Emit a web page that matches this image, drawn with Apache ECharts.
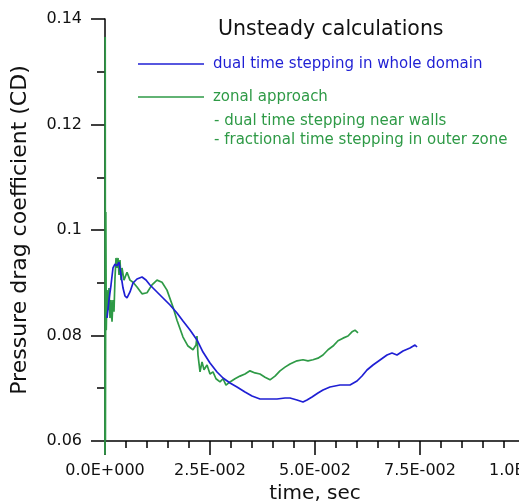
<!DOCTYPE html>
<html>
<head>
<meta charset="utf-8">
<script src="https://cdn.jsdelivr.net/npm/echarts@6/dist/echarts.min.js"></script>
<style>html,body{margin:0;padding:0;background:#fff;}#c{width:519px;height:503px;}</style>
</head>
<body>
<div id="c"></div>
<script>
// ---- data ----
const xTickLabels = ["0.0E+000", "2.5E-002", "5.0E-002", "7.5E-002", "1.0E-001"];
const yTickLabels = ["0.06", "0.08", "0.1", "0.12", "0.14"];

const blueName = "dual time stepping in whole domain";
const blueTime = [0.00048,0.00095,0.00143,0.00190,0.00238,0.00286,0.00333,0.00381,0.00429,0.00476,0.00524,0.00595,0.00667,0.00762,0.00881,0.00976,0.01071,0.01238,0.01381,0.01548,0.01714,0.01857,0.02024,0.02190,0.02333,0.02500,0.02667,0.02810,0.02976,0.03143,0.03333,0.03500,0.03690,0.03929,0.04095,0.04286,0.04405,0.04571,0.04714,0.04810,0.04929,0.05071,0.05190,0.05357,0.05595,0.05833,0.06000,0.06119,0.06238,0.06381,0.06548,0.06714,0.06833,0.06952,0.07095,0.07262,0.07381,0.07429];
const blueCD = [0.08332,0.08673,0.08957,0.09280,0.09355,0.09318,0.09393,0.09147,0.08900,0.08749,0.08711,0.08825,0.08995,0.09071,0.09109,0.09052,0.08957,0.08825,0.08711,0.08578,0.08427,0.08275,0.08104,0.07915,0.07687,0.07479,0.07308,0.07194,0.07100,0.07024,0.06929,0.06853,0.06796,0.06796,0.06796,0.06815,0.06815,0.06777,0.06739,0.06777,0.06834,0.06910,0.06967,0.07024,0.07062,0.07062,0.07137,0.07232,0.07346,0.07441,0.07536,0.07630,0.07668,0.07630,0.07706,0.07763,0.07820,0.07782];

const greenName = "zonal approach";
const greenNotes = ["- dual time stepping near walls", "- fractional time stepping in outer zone"];
const greenTime = [0,0.00005,0.0001,0.0002,0.0003,0.00048,0.00071,0.00095,0.00119,0.00143,0.00167,0.0019,0.00214,0.00238,0.00262,0.00286,0.0031,0.00333,0.00357,0.00381,0.00405,0.00452,0.00524,0.00595,0.00667,0.00762,0.00881,0.01,0.01119,0.01238,0.01357,0.01476,0.01619,0.01714,0.01857,0.01976,0.02095,0.02167,0.0219,0.02214,0.02262,0.0231,0.02357,0.02429,0.025,0.02571,0.02643,0.02738,0.0281,0.02881,0.02976,0.03095,0.03214,0.03333,0.03452,0.03571,0.0369,0.0381,0.03929,0.04048,0.04167,0.04286,0.04405,0.04571,0.04714,0.04833,0.04952,0.05071,0.0519,0.0531,0.05429,0.05548,0.05667,0.05786,0.05881,0.05952,0.06024];
const greenCD = [0.0574,0.1366,0.0602,0.1034,0.0810,0.0886,0.0848,0.0890,0.0833,0.0867,0.0826,0.0867,0.0845,0.0909,0.0947,0.0928,0.0947,0.0915,0.0943,0.0905,0.0928,0.0905,0.0920,0.0905,0.0901,0.0892,0.0879,0.0881,0.0896,0.0905,0.0901,0.0886,0.0854,0.0829,0.0797,0.0780,0.0773,0.0782,0.0799,0.0763,0.0731,0.0750,0.0735,0.0744,0.0727,0.0731,0.0718,0.0712,0.0718,0.0706,0.0712,0.0718,0.0723,0.0727,0.0733,0.0729,0.0727,0.0721,0.0716,0.0723,0.0733,0.0740,0.0746,0.0752,0.0754,0.0752,0.0754,0.0757,0.0763,0.0773,0.0780,0.0790,0.0795,0.0799,0.0807,0.0810,0.0805];

const titleText = "Unsteady calculations";
const xName = "time, sec";
const yName = "Pressure drag coefficient (CD)";

// ---- chart ----
const BLUE = '#1f1fd4', GREEN = '#2e9a46';
const FONT = 'DejaVu Sans';
const zip = (a, b) => a.map((v, i) => [v, b[i]]);
const chart = echarts.init(document.getElementById('c'), null, {renderer: 'canvas'});

chart.setOption({
  animation: false,
  backgroundColor: '#fff',
  grid: {left: 105, top: 19, right: -6, bottom: 62, containLabel: false, outerBoundsMode: 'none'},
  xAxis: {
    type: 'value', min: 0, max: 0.1, interval: 0.025,
    name: xName, nameLocation: 'middle', nameGap: 42,
    nameTextStyle: {fontFamily: FONT, fontSize: 20, color: '#111'},
    axisLine: {onZero: false, lineStyle: {color: '#000', width: 1.5}},
    axisTick: {length: 14, lineStyle: {color: '#000', width: 1.5}},
    minorTick: {show: true, splitNumber: 5, length: 7, lineStyle: {color: '#000', width: 1.5}},
    splitLine: {show: false},
    axisLabel: {
      margin: 22, fontFamily: FONT, fontSize: 16, color: '#111',
      formatter: v => xTickLabels[Math.round(v / 0.025)]
    }
  },
  yAxis: {
    type: 'value', min: 0.06, max: 0.14, interval: 0.02,
    name: yName, nameLocation: 'middle', nameGap: 74,
    nameTextStyle: {fontFamily: FONT, fontSize: 22, color: '#111'},
    axisLine: {onZero: false, lineStyle: {color: '#000', width: 1.5}},
    axisTick: {length: 14, lineStyle: {color: '#000', width: 1.5}},
    minorTick: {show: true, splitNumber: 2, length: 8, lineStyle: {color: '#000', width: 1.5}},
    splitLine: {show: false},
    axisLabel: {
      margin: 23, fontFamily: FONT, fontSize: 16, color: '#111',
      formatter: v => yTickLabels[Math.round((v - 0.06) / 0.02)]
    }
  },
  series: [
    {name: greenName, type: 'line', data: zip(greenTime, greenCD), showSymbol: false, clip: false,
     lineStyle: {color: GREEN, width: 1.7}, z: 2},
    {name: blueName, type: 'line', data: zip(blueTime, blueCD), showSymbol: false, clip: false,
     lineStyle: {color: BLUE, width: 1.7}, z: 3}
  ],
  graphic: [
    {type: 'text', left: 218, top: 19, style: {text: titleText, font: '20.5px "' + FONT + '"', fill: '#111'}},
    {type: 'line', shape: {x1: 138, y1: 64, x2: 204, y2: 64}, style: {stroke: BLUE, lineWidth: 1.6}},
    {type: 'text', x: 213, y: 64, style: {text: blueName, font: '15px "' + FONT + '"', fill: BLUE, verticalAlign: 'middle'}},
    {type: 'line', shape: {x1: 138, y1: 97, x2: 204, y2: 97}, style: {stroke: GREEN, lineWidth: 1.6}},
    {type: 'text', x: 213, y: 97, style: {text: greenName, font: '15px "' + FONT + '"', fill: GREEN, verticalAlign: 'middle'}},
    {type: 'text', x: 214, y: 121, style: {text: greenNotes[0], font: '15px "' + FONT + '"', fill: GREEN, verticalAlign: 'middle'}},
    {type: 'text', x: 214, y: 140, style: {text: greenNotes[1], font: '15px "' + FONT + '"', fill: GREEN, verticalAlign: 'middle'}}
  ]
});
</script>
</body>
</html>
